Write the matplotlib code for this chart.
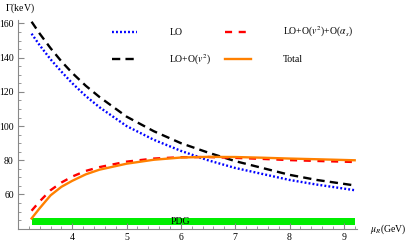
import matplotlib.pyplot as plt
import numpy as np

plt.rcParams['font.family'] = ['Liberation Serif', 'DejaVu Serif']
plt.rcParams['mathtext.fontset'] = 'stix'

# renormalization scale mu_R (GeV)
mu = [3.25, 3.4, 3.6, 3.8, 4.0, 4.25, 4.5, 5.0, 5.5, 6.0, 6.5, 7.0, 7.5, 8.0, 8.5, 9.2]
# decay width Gamma (keV)
lo = [154, 147.2, 139.0, 131.8, 125, 117.5, 111, 100, 92, 85.5, 80, 75.5, 72, 68.5, 65.8, 62.5]
lo_v2 = [161, 154.0, 145.5, 137.8, 131, 123.5, 117, 105.5, 97, 90, 84.5, 79.5, 75.5, 71.5, 68.5, 65.3]
lo_v2_as = [50.5, 56.0, 62.5, 67.0, 70.5, 73.8, 76.0, 79.2, 81.0, 81.8, 81.9, 81.4, 80.8, 80.1, 79.6, 79.0]
total = [46, 52.0, 59.5, 64.5, 68.0, 71.8, 74.5, 78.0, 80.3, 81.6, 82.0, 81.9, 81.5, 81.0, 80.6, 80.0]
pdg_lo, pdg_hi = 42.0, 46.0

fig = plt.figure(figsize=(4.07, 2.44), dpi=100)
ax = fig.add_axes([18/407, 15.3/244, (357.4-18)/407, (228.7-20)/244])

ax.fill_between([mu[0], mu[-1]], pdg_lo, pdg_hi, color='#00ee00', lw=0, zorder=1)
ax.text(6.0, (pdg_lo+pdg_hi)/2, 'PDG', fontsize=7, ha='center', va='center')

ax.plot(mu, lo, color='#0000ff', lw=1.7, ls=(0, (0.8, 0.9)), label='LO')
ax.plot(mu, lo_v2, color='black', lw=1.7, ls=(0, (3.5, 2.2)), label=r'LO+O($v^2$)')
ax.plot(mu, lo_v2_as, color='#ff0000', lw=1.7, ls=(0, (3, 2.8)), label=r'LO+O($v^2$)+O($\alpha_s$)')
ax.plot(mu, total, color='#ff8000', lw=1.7, label='Total')

ax.set_xlim(3, 9.25)
ax.set_ylim(40, 162)
ax.set_xticks([4, 5, 6, 7, 8, 9])
ax.set_xticks(np.arange(3.2, 9.25, 0.2), minor=True)
ax.set_yticks([60, 80, 100, 120, 140, 160])
ax.set_yticks(np.arange(45, 162, 5), minor=True)
for s in ['top', 'right']:
    ax.spines[s].set_visible(False)
for s in ['left', 'bottom']:
    ax.spines[s].set_color('#888888')
    ax.spines[s].set_linewidth(0.8)
ax.tick_params(which='both', direction='in', color='#888888', labelsize=7, pad=3)
ax.tick_params(which='major', length=4, width=0.8)
ax.tick_params(which='minor', length=2, width=0.6)

fig.text(5/407, 1-8/244, r'$\Gamma$(keV)', fontsize=7, va='center', ha='left')
fig.text(370/407, 1-229/244, r'$\mu_R$(GeV)', fontsize=7, va='center', ha='left')

ax.legend(ncol=2, loc='upper left', bbox_to_anchor=(112/407, 1-25/244),
          bbox_transform=fig.transFigure, frameon=False, fontsize=7,
          handlelength=2.6, handletextpad=3.3, columnspacing=1.4,
          labelspacing=1.6, borderpad=0, borderaxespad=0)

fig.savefig('out.png', dpi=100)
